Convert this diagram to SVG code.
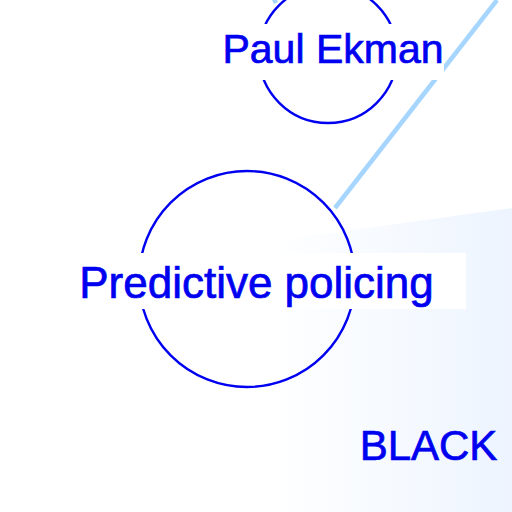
<svg xmlns="http://www.w3.org/2000/svg" width="512" height="512" viewBox="0 0 512 512">
  <defs>
    <linearGradient id="wash" x1="0" y1="0" x2="1" y2="0">
      <stop offset="0" stop-color="#f4f9ff" stop-opacity="0"/>
      <stop offset="0.4" stop-color="#f6faff" stop-opacity="0.8"/>
      <stop offset="1" stop-color="#edf4ff"/>
    </linearGradient>
    <style>
      .node-ring { fill: none; stroke: #0000f0; stroke-width: 2.4; }
      .label-bg { fill: #ffffff; }
      .label { font-family: "Liberation Sans", Arial, sans-serif; fill: #0000f0; stroke: #0000f0; stroke-width: 0.7; text-anchor: middle; }
      .edge { stroke: #a6d6ff; stroke-width: 4.5; fill: none; stroke-linecap: butt; }
    </style>
  </defs>

  <!-- background -->
  <rect width="512" height="512" fill="#ffffff"/>
  <path d="M270 512 L280 240 L512 208 L512 512 Z" fill="url(#wash)"/>

  <!-- connectors -->
  <g id="edges">
    <line class="edge" x1="335" y1="208" x2="497" y2="0"/>
    <line class="edge" x1="276" y1="3" x2="270" y2="-10"/>
  </g>

  <!-- nodes -->
  <g id="node-paul-ekman">
    <circle class="node-ring" cx="328" cy="54" r="69"/>
    <rect class="label-bg" x="212" y="24" width="232" height="56"/>
    <text class="label" x="333" y="63" font-size="41">Paul Ekman</text>
  </g>

  <g id="node-predictive-policing">
    <circle class="node-ring" cx="247" cy="279" r="108"/>
    <rect class="label-bg" x="47" y="253" width="419" height="56"/>
    <text class="label" x="256.5" y="298" font-size="44">Predictive policing</text>
  </g>

  <g id="node-black">
    <text class="label" x="428.5" y="460" font-size="42">BLACK</text>
  </g>
</svg>
